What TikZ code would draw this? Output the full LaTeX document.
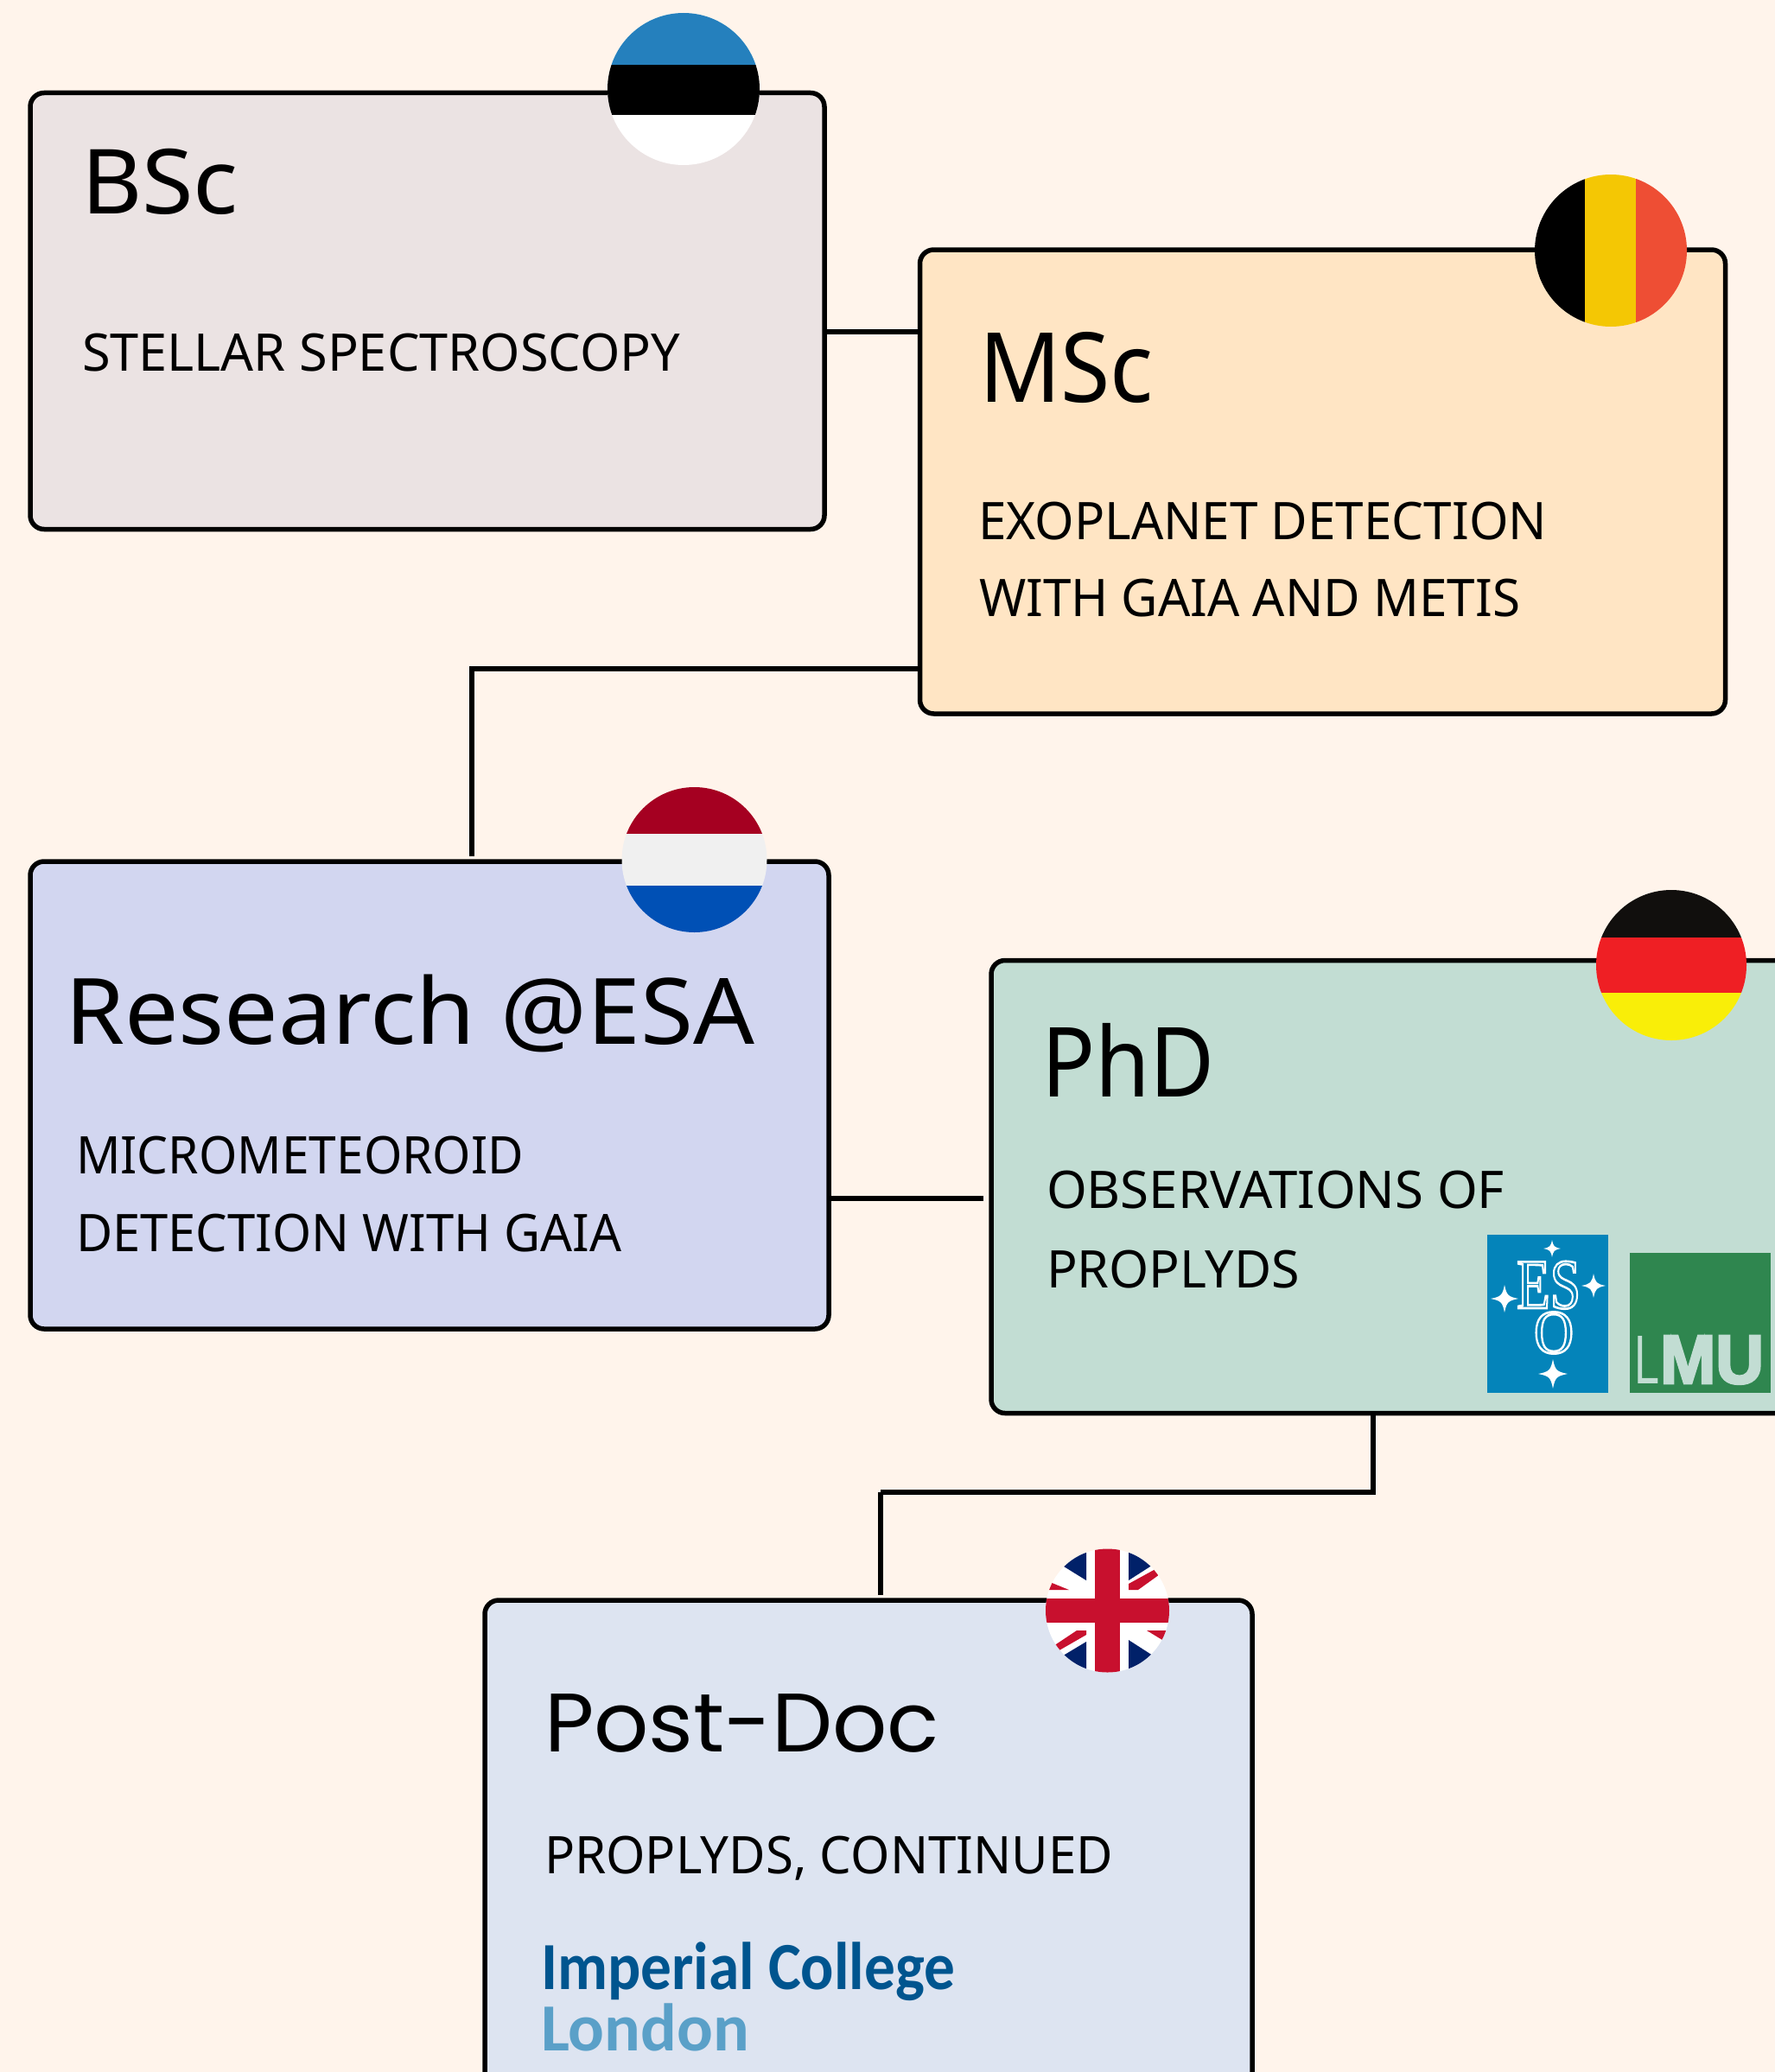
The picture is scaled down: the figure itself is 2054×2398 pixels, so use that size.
\documentclass[tikz,border=0pt]{standalone}
\usepackage{fontspec}
\usepackage{graphicx}
\setmainfont{Noto Sans}
\newfontfamily\headfont{Poppins}
\newfontfamily\imperialfont{Carlito}
\newfontfamily\serifsym{Liberation Serif}
\newfontfamily\lmufont{Liberation Sans}
\definecolor{pagebg}{HTML}{FFF4EB}
\definecolor{boxA}{HTML}{EBE3E3}
\definecolor{boxB}{HTML}{FFE5C4}
\definecolor{boxC}{HTML}{D2D6F0}
\definecolor{boxD}{HTML}{C2DDD3}
\definecolor{boxE}{HTML}{DDE4F1}
\definecolor{esoblue}{HTML}{0484BA}
\definecolor{lmugreen}{HTML}{2F864F}
\definecolor{impdark}{HTML}{00558F}
\definecolor{implight}{HTML}{5AA0C8}
\definecolor{ukblue}{HTML}{012169}
\definecolor{ukred}{HTML}{C8102E}
\definecolor{eeblue}{HTML}{2580BD}
\definecolor{beyellow}{HTML}{F4C704}
\definecolor{bered}{HTML}{EE4E34}
\definecolor{nlred}{HTML}{A50021}
\definecolor{nlwhite}{HTML}{F0F0F0}
\definecolor{nlblue}{HTML}{0050B5}
\definecolor{deblack}{HTML}{110F0D}
\definecolor{dered}{HTML}{EF1F24}
\definecolor{deyellow}{HTML}{F9EE08}
% fit text to a width given in reference pixels
\newcommand{\fitw}[2]{\begingroup\dimen0=#1pt\dimen0=0.5\dimen0\resizebox{\dimen0}{\height}{#2}\endgroup}
% outlined and heavier glyphs
\newcommand{\outlined}[1]{\special{pdf:code 1 Tr 1.3 w}#1\special{pdf:code 0 Tr}}
\newcommand{\heavier}[1]{\special{pdf:code 2 Tr 1.4 w}#1\special{pdf:code 0 Tr}}
\newcommand{\sparkle}[3]{\fill[white] (#1-#3,#2) .. controls (#1-0.25*#3,#2-0.15*#3) and (#1-0.15*#3,#2-0.25*#3) .. (#1,#2-#3) .. controls (#1+0.15*#3,#2-0.25*#3) and (#1+0.25*#3,#2-0.15*#3) .. (#1+#3,#2) .. controls (#1+0.25*#3,#2+0.15*#3) and (#1+0.15*#3,#2+0.25*#3) .. (#1,#2+#3) .. controls (#1-0.15*#3,#2+0.25*#3) and (#1-0.25*#3,#2+0.15*#3) .. (#1-#3,#2) -- cycle;}
\tikzset{
  card/.style={draw=black,line width=2.75pt,rounded corners=8pt,anchor=north west,inner sep=0pt,outer sep=0pt},
  conn/.style={draw=black,line width=2.75pt},
  title/.style={anchor=base west,inner sep=0pt,outer sep=0pt,font=\fontsize{52}{60}\selectfont,text=black},
  sub/.style={anchor=base west,inner sep=0pt,outer sep=0pt,font=\fontsize{30}{36}\selectfont,text=black},
  logo/.style={anchor=base west,inner sep=0pt,outer sep=0pt}
}
\begin{document}
\begin{tikzpicture}[x=0.5pt,y=-0.5pt]
\clip (0,0) rectangle (2054,2398);
\fill[pagebg] (0,0) rectangle (2054,2398);
% cards
\node[card,fill=boxA,minimum width=459.5pt,minimum height=252.5pt] (bsc) at (35,107.5) {};
\node[card,fill=boxB,minimum width=466pt,minimum height=268.5pt] (msc) at (1064.5,289) {};
\node[card,fill=boxC,minimum width=462pt,minimum height=270.5pt] (esa) at (35,997) {};
\node[card,fill=boxD,minimum width=520pt,minimum height=262pt] (phd) at (1147,1111.5) {};
\node[card,fill=boxE,minimum width=444pt,minimum height=320pt] (post) at (561,1852) {};
% connectors
\coordinate (j1) at (1000,384);
\coordinate (j2) at (546,774);
\coordinate (j3) at (1050,1387);
\coordinate (j4) at (1589,1727);
\coordinate (j5) at (1019,1727);
\draw[conn] (bsc.east |- j1) -- (msc.west |- j1);
\draw[conn,shorten >=3pt] (msc.west |- j2) -- (j2) -- (j2 |- esa.north);
\draw[conn,shorten >=4.5pt] (esa.east |- j3) -- (phd.west |- j3);
\draw[conn] (j4 |- phd.south) -- (j4) -- (j5);
\draw[conn,line width=3.25pt,shorten >=3pt] (j5) -- (j5 |- post.north);
% flags
\begin{scope}
\clip (791,103) circle (88);
\fill[white] (691,0) rectangle (891,200);
\fill[black] (691,75) rectangle (891,133);
\fill[eeblue] (691,0) rectangle (891,75);
\end{scope}
\begin{scope}
\clip (1864,290) circle (88);
\fill[black] (1770,190) rectangle (1834,390);
\fill[beyellow] (1834,190) rectangle (1893,390);
\fill[bered] (1893,190) rectangle (1960,390);
\end{scope}
\begin{scope}
\clip (803.5,995) circle (84);
\fill[nlred] (710,900) rectangle (900,965);
\fill[nlwhite] (710,965) rectangle (900,1025);
\fill[nlblue] (710,1025) rectangle (900,1090);
\end{scope}
\begin{scope}
\clip (1934,1117) circle (87);
\fill[deblack] (1840,1020) rectangle (2030,1085);
\fill[dered] (1840,1085) rectangle (2030,1149);
\fill[deyellow] (1840,1149) rectangle (2030,1210);
\end{scope}
\begin{scope}
\clip (1281.5,1864) circle (71.5);
\fill[white] (1200,1785) rectangle (1360,1945);
\fill[ukblue] (1257,1790) -- (1257,1829) -- (1215,1803) -- (1215,1790) -- cycle;
\fill[ukblue] (1306,1790) -- (1306,1829) -- (1345,1804) -- (1345,1790) -- cycle;
\fill[ukblue] (1257,1940) -- (1257,1900) -- (1217,1924) -- (1217,1940) -- cycle;
\fill[ukblue] (1306,1940) -- (1306,1898) -- (1348,1925) -- (1348,1940) -- cycle;
\fill[ukred] (1205,1829) -- (1210,1829) -- (1237,1840) -- (1205,1840) -- cycle;
\fill[ukred] (1306,1833) -- (1306,1840) -- (1317,1840) -- (1342,1822) -- (1337,1816) -- cycle;
\fill[ukred] (1257,1887) -- (1246,1887) -- (1219,1905) -- (1224,1911) -- (1257,1892) -- cycle;
\fill[ukred] (1327,1887) -- (1355,1887) -- (1355,1904) -- cycle;
\fill[ukred] (1267,1785) rectangle (1296,1945);
\fill[ukred] (1200,1849.5) rectangle (1360,1878);
\end{scope}
% texts
\node[title] (t1) at (94,248) {\fitw{182}{BSc}};
\node[sub] (s1) at (95,429) {\fitw{692}{STELLAR SPECTROSCOPY}};
\node[title,font=\fontsize{56}{60}\selectfont] (t2) at (1133,465) {\fitw{202}{MSc}};
\node[sub] (s2a) at (1132,624) {\fitw{658}{EXOPLANET DETECTION}};
\node[sub] (s2b) at (1133,713) {\fitw{626}{WITH GAIA AND METIS}};
\node[title,font=\fontsize{53}{60}\selectfont] (t3) at (75,1208) {\fitw{798}{Research @ESA}};
\node[sub] (s3a) at (88,1358) {\fitw{518}{MICROMETEOROID}};
\node[sub] (s3b) at (88,1448) {\fitw{631}{DETECTION WITH GAIA}};
\node[title,font=\fontsize{56}{60}\selectfont] (t4) at (1205,1269) {\fitw{201}{PhD}};
\node[sub] (s4a) at (1211,1398) {\fitw{530}{OBSERVATIONS OF}};
\node[sub] (s4b) at (1211,1490) {\fitw{293}{PROPLYDS}};
\node[title,font=\headfont\fontsize{48}{60}\selectfont] (t5) at (630,2027) {\fitw{457}{Post-Doc}};
\node[sub] (s5) at (630,2168) {\fitw{658}{PROPLYDS, CONTINUED}};
\node[logo,font=\imperialfont\bfseries\fontsize{39}{42}\selectfont,text=impdark] (imp) at (626,2302) {\fitw{479}{Imperial College}};
\node[logo,font=\imperialfont\bfseries\fontsize{39}{42}\selectfont,text=implight] (lon) at (626,2373) {\fitw{241}{London}};
% ESO logo
\fill[esoblue] (1721,1429) rectangle (1861,1611.5);
\sparkle{1796}{1445}{10}
\sparkle{1741}{1503}{16}
\sparkle{1844}{1488}{14}
\sparkle{1797}{1590}{17}
\node[logo,font=\serifsym\fontsize{41}{42}\selectfont,text=white] (es) at (1755,1514) {\fitw{74}{\outlined{ES}}};
\node[logo,font=\serifsym\fontsize{36}{42}\selectfont,text=white] (o) at (1775,1566) {\fitw{46}{\outlined{O}}};
% LMU logo
\fill[lmugreen] (1886,1449.5) rectangle (2049,1612);
\node[logo,font=\lmufont\fontsize{40}{42}\selectfont,text=boxD] (lmul) at (1891,1601) {\fitw{29}{L}};
\node[logo,font=\lmufont\bfseries\fontsize{40}{42}\selectfont,text=boxD] (lmumu) at (1921,1601) {\fitw{120}{\heavier{MU}}};
\end{tikzpicture}
\end{document}
